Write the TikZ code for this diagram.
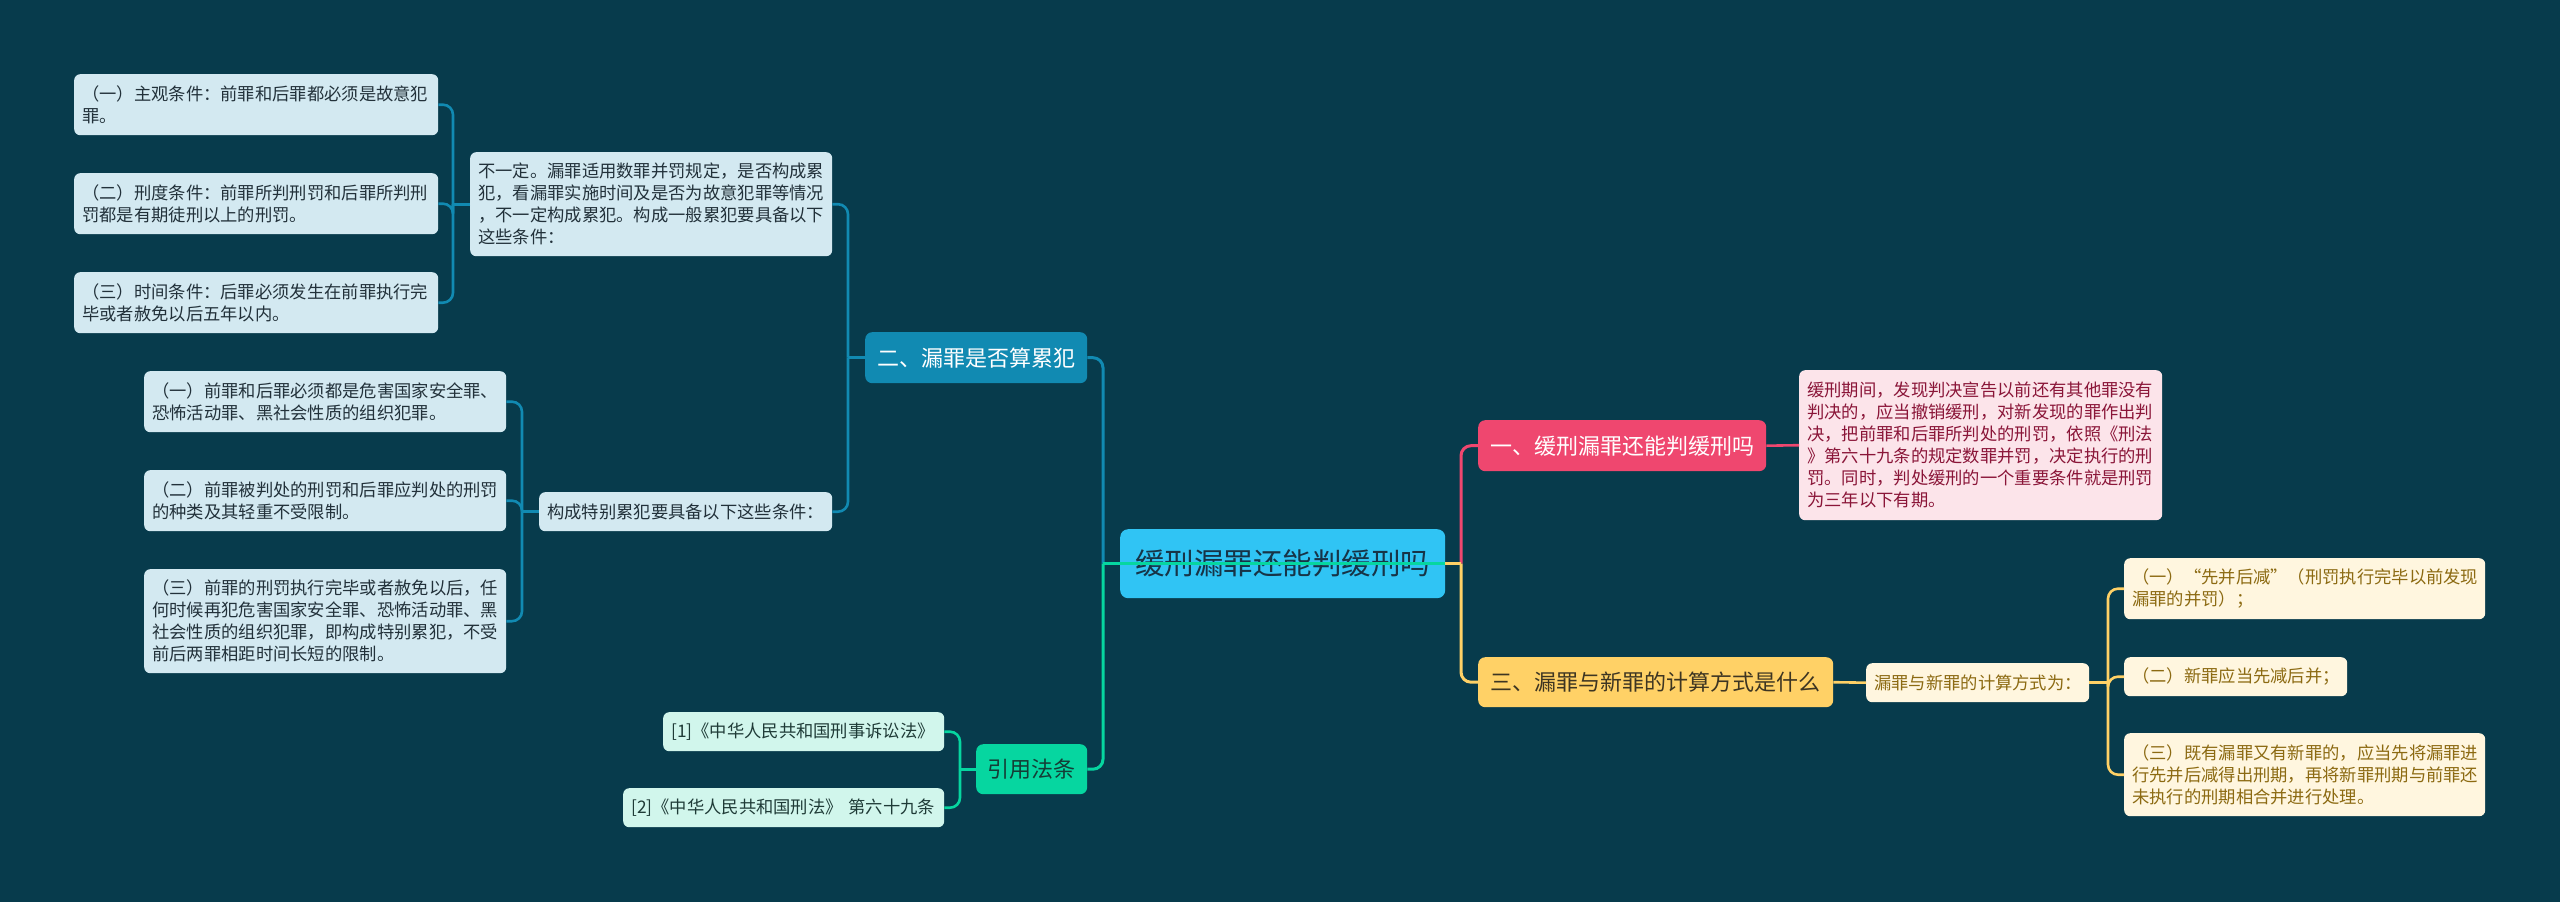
\documentclass[tikz,border=0pt]{standalone}
\usepackage{fontspec}
\setmainfont{Noto Sans CJK SC}
\usetikzlibrary{calc}
\definecolor{bgc}{HTML}{073B4C}
\definecolor{rootc}{HTML}{30C4F4}
\definecolor{roottx}{HTML}{173447}
\definecolor{bluec}{HTML}{118AB2}
\definecolor{pinkc}{HTML}{EF476F}
\definecolor{yelc}{HTML}{FFD166}
\definecolor{grnc}{HTML}{06D6A0}
\definecolor{bleaf}{HTML}{D3E9F1}
\definecolor{bleaftx}{HTML}{22313A}
\definecolor{pleaf}{HTML}{FCE4EA}
\definecolor{pleaftx}{HTML}{8A1538}
\definecolor{yleaf}{HTML}{FFF6DF}
\definecolor{yleaftx}{HTML}{8C6A12}
\definecolor{gleaf}{HTML}{D1F6EC}
\definecolor{gleaftx}{HTML}{1F3B37}
\definecolor{ybranchtx}{HTML}{3D3522}
\definecolor{gbranchtx}{HTML}{143D36}
\newcommand\leaffont{\fontsize{17.3}{22}\selectfont}
\newcommand\branchfont{\fontsize{22}{26}\selectfont}
\newcommand\rootfont{\fontsize{29.5}{34}\selectfont}
\begin{document}
\begin{tikzpicture}[x=1pt,y=-1pt,
  leafbox/.style={rounded corners=6, inner xsep=8, inner ysep=0, align=left, anchor=north west, font=\leaffont},
  bluebox/.style={leafbox, fill=bleaf, text=bleaftx},
  pinkbox/.style={leafbox, fill=pleaf, text=pleaftx},
  yelbox/.style={leafbox, fill=yleaf, text=yleaftx},
  grnbox/.style={leafbox, fill=gleaf, text=gleaftx},
  branchbox/.style={rounded corners=7, inner sep=0, anchor=north west, align=center, font=\branchfont},
  mainconn/.style={line width=3pt},
  subconn/.style={line width=2.6pt},
  rc/.style={rounded corners=10}
]
\fill[bgc] (0,0) rectangle (2560,902);
\useasboundingbox (0,0) rectangle (2560,902);

% trunk coordinates
\coordinate (tL) at (1103,0);
\coordinate (tR) at (1461,0);
\coordinate (tB) at (848,0);
\coordinate (tG) at (453,0);
\coordinate (tS) at (522,0);
\coordinate (tC) at (960,0);
\coordinate (tY) at (2108,0);

% root
\node[branchbox, rounded corners=8, fill=rootc, text=roottx, font=\rootfont, minimum width=325, minimum height=69] (root) at (1120,529) {缓刑漏罪还能判缓刑吗};

% branches
\node[branchbox, fill=bluec, text=white, minimum width=222, minimum height=51] (b2) at (865,332) {二、漏罪是否算累犯};
\node[branchbox, fill=grnc, text=gbranchtx, minimum width=111, minimum height=50] (b4) at (976,744) {引用法条};
\node[branchbox, fill=pinkc, text=white, minimum width=288, minimum height=51] (b1) at (1478,420) {一、缓刑漏罪还能判缓刑吗};
\node[branchbox, fill=yelc, text=ybranchtx, minimum width=355, minimum height=50] (b3) at (1478,657) {三、漏罪与新罪的计算方式是什么};

% pink leaf
\node[pinkbox, text width=347, minimum height=150] (p1) at (1799,370) {缓刑期间，发现判决宣告以前还有其他罪没有\\
判决的，应当撤销缓刑，对新发现的罪作出判\\
决，把前罪和后罪所判处的刑罚，依照《刑法\\
》第六十九条的规定数罪并罚，决定执行的刑\\
罚。同时，判处缓刑的一个重要条件就是刑罚\\
为三年以下有期。};

% yellow leaves
\node[yelbox, text width=207, minimum height=39] (y0) at (1866,663) {漏罪与新罪的计算方式为：};
\node[yelbox, text width=345, minimum height=61] (c1) at (2124,558) {（一）“先并后减”（刑罚执行完毕以前发现\\
漏罪的并罚）；};
\node[yelbox, text width=207, minimum height=39] (c2) at (2124,657) {（二）新罪应当先减后并；};
\node[yelbox, text width=345, minimum height=83] (c3) at (2124,733) {（三）既有漏罪又有新罪的，应当先将漏罪进\\
行先并后减得出刑期，再将新罪刑期与前罪还\\
未执行的刑期相合并进行处理。};

% blue leaves
\node[bluebox, text width=346, minimum height=104] (g) at (470,152) {不一定。漏罪适用数罪并罚规定，是否构成累\\
犯，看漏罪实施时间及是否为故意犯罪等情况\\
，不一定构成累犯。构成一般累犯要具备以下\\
这些条件：};
\node[bluebox, text width=348, minimum height=61] (g1) at (74,74) {（一）主观条件：前罪和后罪都必须是故意犯\\
罪。};
\node[bluebox, text width=348, minimum height=61] (g2) at (74,173) {（二）刑度条件：前罪所判刑罚和后罪所判刑\\
罚都是有期徒刑以上的刑罚。};
\node[bluebox, text width=348, minimum height=61] (g3) at (74,272) {（三）时间条件：后罪必须发生在前罪执行完\\
毕或者赦免以后五年以内。};
\node[bluebox, text width=277, minimum height=39] (s) at (539,492) {构成特别累犯要具备以下这些条件：};
\node[bluebox, text width=346, minimum height=61] (s1) at (144,371) {（一）前罪和后罪必须都是危害国家安全罪、\\
恐怖活动罪、黑社会性质的组织犯罪。};
\node[bluebox, text width=346, minimum height=61] (s2) at (144,470) {（二）前罪被判处的刑罚和后罪应判处的刑罚\\
的种类及其轻重不受限制。};
\node[bluebox, text width=346, minimum height=104] (s3) at (144,569) {（三）前罪的刑罚执行完毕或者赦免以后，任\\
何时候再犯危害国家安全罪、恐怖活动罪、黑\\
社会性质的组织犯罪，即构成特别累犯，不受\\
前后两罪相距时间长短的限制。};

% green leaves
\node[grnbox, text width=265, minimum height=39] (r1) at (663,712) {{[1]}《中华人民共和国刑事诉讼法》};
\node[grnbox, text width=305, minimum height=39] (r2) at (623,788) {{[2]}《中华人民共和国刑法》 第六十九条};

% root connectors
\draw[mainconn, bluec, rc] (root.west -| tL) |- (b2.east);
\draw[mainconn, pinkc, rc] (root.east -| tR) |- (b1.west);
\draw[mainconn, yelc, rc] (root.east -| tR) |- (b3.west);
\draw[mainconn, yelc] (root.east) -- (root.east -| tR);
\draw[mainconn, grnc, rc] (root.west -| tL) |- (b4.east);
\draw[mainconn, grnc] (root.east) -- (root.west -| tL);

% pink
\draw[subconn, pinkc] (b1.east) -- (p1.west);

% yellow
\draw[subconn, yelc] (b3.east) -- (y0.west);
\draw[subconn, yelc] (y0.east) -- (y0.east -| tY);
\draw[subconn, yelc, rc] (y0.east -| tY) |- (c1.west);
\draw[subconn, yelc, rc] (y0.east -| tY) |- (c2.west);
\draw[subconn, yelc, rc] (y0.east -| tY) |- (c3.west);

% blue
\draw[subconn, bluec] (b2.west) -- (b2.west -| tB);
\draw[subconn, bluec, rc] (b2.west -| tB) |- (g.east);
\draw[subconn, bluec, rc] (b2.west -| tB) |- (s.east);
\draw[subconn, bluec] (g.west) -- (g.west -| tG);
\draw[subconn, bluec, rc] (g.west -| tG) |- (g1.east);
\draw[subconn, bluec, rc] (g.west -| tG) |- (g2.east);
\draw[subconn, bluec, rc] (g.west -| tG) |- (g3.east);
\draw[subconn, bluec] (s.west) -- (s.west -| tS);
\draw[subconn, bluec, rc] (s.west -| tS) |- (s1.east);
\draw[subconn, bluec, rc] (s.west -| tS) |- (s2.east);
\draw[subconn, bluec, rc] (s.west -| tS) |- (s3.east);

% green
\draw[subconn, grnc] (b4.west) -- (b4.west -| tC);
\draw[subconn, grnc, rc] (b4.west -| tC) |- (r1.east);
\draw[subconn, grnc, rc] (b4.west -| tC) |- (r2.east);
\end{tikzpicture}
\end{document}
